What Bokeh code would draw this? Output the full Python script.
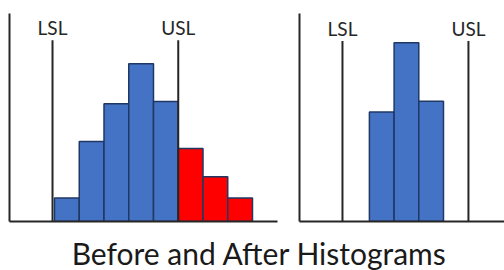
from bokeh.plotting import figure
from bokeh.layouts import column, row
from bokeh.models import Range1d, FixedTicker, Label, ColumnDataSource
from bokeh.core.properties import value
from bokeh.embed import file_html
from bokeh.resources import INLINE

# ---- data ----
before_bins = [1, 2, 3, 4, 5, 6, 7, 8]
before_counts = [1.0, 3.4, 5.0, 6.7, 5.1, 3.1, 1.9, 1.0]
before_lsl = 0.42
before_usl = 5.5

after_bins = [1, 2, 3]
after_counts = [4.67, 7.63, 5.13]
after_lsl = -0.59
after_usl = 4.51

spec_labels = ["LSL", "USL"]
title_text = "Before and After Histograms"

# ---- style ----
BLUE = "#4472C4"
RED = "#FF0000"
EDGE = "#1F3864"
INK = "#262626"
FONT = "Lato"
SPEC_TOP = 7.7
SPEC_LABEL_Y = 8.25


def style(p):
    for ax in list(p.xaxis) + list(p.yaxis):
        ax.ticker = FixedTicker(ticks=[])
        ax.minor_tick_line_color = None
        ax.major_tick_line_color = None
        ax.major_tick_out = 0
        ax.major_tick_in = 0
        ax.minor_tick_out = 0
        ax.minor_tick_in = 0
        ax.major_label_standoff = 0
        ax.axis_line_width = 2
        ax.axis_line_color = INK
    p.grid.visible = False
    p.outline_line_color = None


def panel(bins, counts, lsl, usl, xr, yr, w, h, borders):
    p = figure(width=w, height=h, x_range=Range1d(*xr), y_range=Range1d(*yr),
               output_backend="svg", toolbar_location=None,
               min_border_left=borders[0], min_border_right=borders[1],
               min_border_top=borders[2], min_border_bottom=borders[3])
    style(p)
    colors = [RED if b > usl else BLUE for b in bins]
    src = ColumnDataSource(dict(x=bins, top=counts, color=colors))
    p.vbar(x="x", top="top", bottom=0, width=1.0, source=src,
           fill_color="color", line_color=EDGE, line_width=1.5)
    limits = [lsl, usl]
    p.segment(x0=limits, y0=[0, 0], x1=limits, y1=[SPEC_TOP, SPEC_TOP],
              line_color=INK, line_width=2)
    p.text(x=limits, y=[SPEC_LABEL_Y, SPEC_LABEL_Y], text=spec_labels,
           text_font=value(FONT), text_font_size="19px", text_color=INK,
           text_align="center", text_baseline="middle")
    return p


p1 = panel(before_bins, before_counts, before_lsl, before_usl,
           (-1.318, 9.51), (0, 212 / 24), 280, 232, (9, 3, 9, 11))
p2 = panel(after_bins, after_counts, after_lsl, after_usl,
           (-2.33, 5.97), (0, 213 / 24), 224, 232, (19, 0, 13, 6))

p3 = figure(width=504, height=38, x_range=Range1d(0, 504), y_range=Range1d(0, 38),
            output_backend="svg", toolbar_location=None,
            x_axis_location=None, y_axis_location=None,
            min_border_left=0, min_border_right=0, min_border_top=0, min_border_bottom=0)
p3.grid.visible = False
p3.outline_line_color = None
p3.add_layout(Label(x=259, y=18, text=title_text, text_font=FONT, text_font_size="30px",
                    text_color="#1a1a1a", text_align="center", text_baseline="middle"))

layout = column(row(p1, p2), p3)
open("out.html", "w").write(file_html(layout, INLINE))
